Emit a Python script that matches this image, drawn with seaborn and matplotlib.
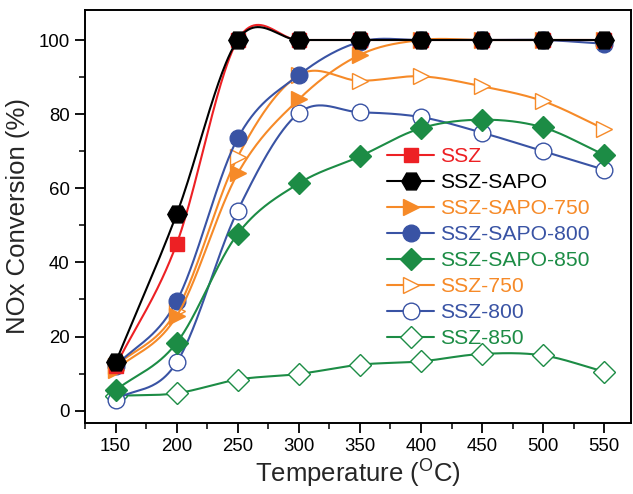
# NOx conversion vs temperature - smooth curves with markers

import numpy as np
import pandas as pd
import seaborn as sns
import matplotlib.pyplot as plt
from matplotlib.lines import Line2D
from matplotlib.ticker import MultipleLocator

# ================================
# 1. data
# ================================
temp = [150, 200, 250, 300, 350, 400, 450, 500, 550]

ssz = [12, 45, 100, 100, 100, 100, 100, 100, 100]
ssz_sapo = [13, 53, 100, 100, 100, 100, 100, 100, 100]
ssz_sapo_750 = [11, 25.5, 64, 84, 96, 100, 100, 100, 100]
ssz_sapo_800 = [12, 29.5, 73.5, 90.5, 99.5, 100, 100, 100, 99]
ssz_sapo_850 = [5.5, 18.3, 47.7, 61.3, 68.6, 76.2, 78.5, 76.4, 69]
ssz_750 = [12, 27, 68.5, 90.5, 89, 90.2, 87.5, 83.5, 76]
ssz_800 = [3, 13, 54, 80.3, 80.5, 79.2, 75, 70, 65]
ssz_850 = [4, 4.7, 8.4, 9.9, 12.4, 13.3, 15.3, 14.9, 10.5]

labels = ["SSZ", "SSZ-SAPO", "SSZ-SAPO-750", "SSZ-SAPO-800", "SSZ-SAPO-850",
          "SSZ-750", "SSZ-800", "SSZ-850"]
values = [ssz, ssz_sapo, ssz_sapo_750, ssz_sapo_800, ssz_sapo_850,
          ssz_750, ssz_800, ssz_850]

RED, BLACK, ORANGE, BLUE, GREEN = "#ED2024", "#000000", "#F68A28", "#3953A4", "#1C8C45"
colors = [RED, BLACK, ORANGE, BLUE, GREEN, ORANGE, BLUE, GREEN]
markers = ["s", "H", ">", "o", "D", ">", "o", "D"]
filled = [True, True, True, True, True, False, False, False]
msizes = [10, 14, 12, 12, 11, 12, 12, 11]


def smooth_line(x, y, n=400):
    # cardinal (Catmull-Rom) curve, only used to draw the connecting line
    x = np.asarray(x, float)
    y = np.asarray(y, float)
    k = len(x)
    m = np.zeros(k)
    m[0] = (y[1] - y[0]) / (x[1] - x[0])
    m[-1] = (y[-1] - y[-2]) / (x[-1] - x[-2])
    m[1:-1] = (y[2:] - y[:-2]) / (x[2:] - x[:-2])
    xs = np.linspace(x[0], x[-1], n)
    idx = np.clip(np.searchsorted(x, xs) - 1, 0, k - 2)
    h = x[idx + 1] - x[idx]
    t = (xs - x[idx]) / h
    h00 = 2 * t ** 3 - 3 * t ** 2 + 1
    h10 = t ** 3 - 2 * t ** 2 + t
    h01 = -2 * t ** 3 + 3 * t ** 2
    h11 = t ** 3 - t ** 2
    ys = h00 * y[idx] + h10 * h * m[idx] + h01 * y[idx + 1] + h11 * h * m[idx + 1]
    return xs, ys


# ================================
# 2. style
# ================================
sns.set_style("ticks")
plt.rcParams["font.family"] = ["Liberation Sans", "DejaVu Sans"]
plt.rcParams["mathtext.fontset"] = "custom"
plt.rcParams["mathtext.rm"] = "Liberation Sans"

fig = plt.figure(figsize=(6.33, 4.94), dpi=100)
ax = fig.add_axes([0.1343, 0.1447, 0.8627, 0.8351])

# ================================
# 3. draw (back to front)
# ================================
order = [7, 6, 5, 4, 3, 2, 0, 1]
for z, i in enumerate(order):
    xs, ys = smooth_line(temp, values[i])
    curve = pd.DataFrame({"T": xs, "v": ys})
    sns.lineplot(data=curve, x="T", y="v", ax=ax, color=colors[i], lw=1.5,
                 zorder=2 + z, legend=False)
    pts = pd.DataFrame({"T": temp, "v": values[i]})
    ax.plot(pts["T"], pts["v"], ls="none", marker=markers[i], ms=msizes[i],
            mfc=colors[i] if filled[i] else "white", mec=colors[i], mew=1.0,
            zorder=2.5 + z)

handles = [Line2D([], [], color=colors[i], lw=1.5, marker=markers[i], ms=msizes[i],
                  mfc=colors[i] if filled[i] else "white", mec=colors[i], mew=1.0)
           for i in range(len(labels))]
leg = fig.legend(handles, labels, loc="upper left", bbox_to_anchor=(0.612, 0.702),
                 frameon=False, fontsize=15.2, handlelength=2.2, handletextpad=0.3,
                 labelspacing=0.33, borderpad=0, borderaxespad=0)
for txt, c in zip(leg.get_texts(), colors):
    txt.set_color(c)

# ================================
# 4. axes
# ================================
ax.set_xlim(125, 572)
ax.set_ylim(-3.2, 108.1)
ax.set_xticks(temp)
ax.set_yticks([0, 20, 40, 60, 80, 100])
ax.xaxis.set_minor_locator(MultipleLocator(25))
ax.yaxis.set_minor_locator(MultipleLocator(10))
ax.tick_params(which="major", direction="out", length=7, width=1.3, labelsize=13.4,
               colors="black", pad=4)
ax.tick_params(which="minor", direction="out", length=4, width=1.3)
ax.tick_params(top=False, right=False, which="both")
for s in ax.spines.values():
    s.set_visible(True)
    s.set_linewidth(1.4)
    s.set_color("black")

ax.set_xlabel(r"Temperature ($\mathrm{^{O}}$C)", fontsize=18.5, labelpad=2)
ax.set_ylabel("NOx Conversion (%)", fontsize=18.5, labelpad=6)

fig.savefig("out.png", dpi=100)
